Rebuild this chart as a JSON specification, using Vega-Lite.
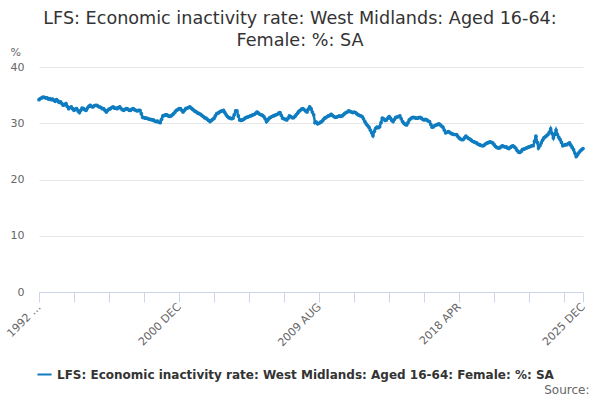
{
  "$schema": "https://vega.github.io/schema/vega-lite/v6.json",
  "autosize": {"type": "none"},
  "width": 544,
  "height": 225,
  "padding": {"left": 39, "top": 67, "right": 17, "bottom": 108},
  "config": {"font": "DejaVu Sans", "view": {"stroke": null}},
  "title": {
    "text": ["LFS: Economic inactivity rate: West Midlands: Aged 16-64:", "Female: %: SA"],
    "fontSize": 17.6,
    "fontWeight": "normal",
    "color": "#333333",
    "anchor": "middle",
    "dx": -11,
    "offset": -4,
    "lineHeight": 22
  },
  "data": {
    "values": [
      {"d": "1992-04-01", "v": 34.2}, {"d": "1992-05-01", "v": 34.4}, {"d": "1992-06-01", "v": 34.5},
      {"d": "1992-07-01", "v": 34.65}, {"d": "1992-08-01", "v": 34.6}, {"d": "1992-09-01", "v": 34.5},
      {"d": "1992-10-01", "v": 34.5}, {"d": "1992-11-01", "v": 34.3}, {"d": "1992-12-01", "v": 34.4},
      {"d": "1993-01-01", "v": 34.2}, {"d": "1993-02-01", "v": 34.3}, {"d": "1993-03-01", "v": 34.1},
      {"d": "1993-04-01", "v": 33.9}, {"d": "1993-05-01", "v": 34.2}, {"d": "1993-06-01", "v": 34.0},
      {"d": "1993-07-01", "v": 33.7}, {"d": "1993-08-01", "v": 33.8}, {"d": "1993-09-01", "v": 33.5},
      {"d": "1993-10-01", "v": 33.2}, {"d": "1993-11-01", "v": 33.3}, {"d": "1993-12-01", "v": 33.5},
      {"d": "1994-01-01", "v": 33.0}, {"d": "1994-02-01", "v": 32.6}, {"d": "1994-03-01", "v": 32.8},
      {"d": "1994-04-01", "v": 32.9}, {"d": "1994-05-01", "v": 32.6}, {"d": "1994-06-01", "v": 32.3},
      {"d": "1994-07-01", "v": 32.5}, {"d": "1994-08-01", "v": 32.6}, {"d": "1994-09-01", "v": 32.2},
      {"d": "1994-10-01", "v": 31.9}, {"d": "1994-11-01", "v": 32.3}, {"d": "1994-12-01", "v": 32.7},
      {"d": "1995-01-01", "v": 32.6}, {"d": "1995-02-01", "v": 32.4}, {"d": "1995-03-01", "v": 32.3},
      {"d": "1995-04-01", "v": 32.7}, {"d": "1995-05-01", "v": 33.0}, {"d": "1995-06-01", "v": 33.2},
      {"d": "1995-07-01", "v": 33.0}, {"d": "1995-08-01", "v": 32.9}, {"d": "1995-09-01", "v": 33.1},
      {"d": "1995-10-01", "v": 33.2}, {"d": "1995-11-01", "v": 33.2}, {"d": "1995-12-01", "v": 33.0},
      {"d": "1996-01-01", "v": 32.9}, {"d": "1996-02-01", "v": 32.8}, {"d": "1996-03-01", "v": 32.6},
      {"d": "1996-04-01", "v": 32.6}, {"d": "1996-05-01", "v": 32.3}, {"d": "1996-06-01", "v": 32.0},
      {"d": "1996-07-01", "v": 32.3}, {"d": "1996-08-01", "v": 32.5}, {"d": "1996-09-01", "v": 32.6},
      {"d": "1996-10-01", "v": 32.8}, {"d": "1996-11-01", "v": 32.9}, {"d": "1996-12-01", "v": 32.7},
      {"d": "1997-01-01", "v": 32.7}, {"d": "1997-02-01", "v": 32.6}, {"d": "1997-03-01", "v": 32.8},
      {"d": "1997-04-01", "v": 32.9}, {"d": "1997-05-01", "v": 32.6}, {"d": "1997-06-01", "v": 32.4},
      {"d": "1997-07-01", "v": 32.3}, {"d": "1997-08-01", "v": 32.5}, {"d": "1997-09-01", "v": 32.6},
      {"d": "1997-10-01", "v": 32.5}, {"d": "1997-11-01", "v": 32.3}, {"d": "1997-12-01", "v": 32.3},
      {"d": "1998-01-01", "v": 32.5}, {"d": "1998-02-01", "v": 32.6}, {"d": "1998-03-01", "v": 32.4},
      {"d": "1998-04-01", "v": 32.3}, {"d": "1998-05-01", "v": 32.2}, {"d": "1998-06-01", "v": 32.3},
      {"d": "1998-07-01", "v": 32.3}, {"d": "1998-08-01", "v": 31.7}, {"d": "1998-09-01", "v": 31.05},
      {"d": "1998-10-01", "v": 31.0}, {"d": "1998-11-01", "v": 30.9}, {"d": "1998-12-01", "v": 30.9},
      {"d": "1999-01-01", "v": 30.8}, {"d": "1999-02-01", "v": 30.7}, {"d": "1999-03-01", "v": 30.7},
      {"d": "1999-04-01", "v": 30.6}, {"d": "1999-05-01", "v": 30.6}, {"d": "1999-06-01", "v": 30.4},
      {"d": "1999-07-01", "v": 30.3}, {"d": "1999-08-01", "v": 30.4}, {"d": "1999-09-01", "v": 30.2},
      {"d": "1999-10-01", "v": 30.1}, {"d": "1999-11-01", "v": 30.7}, {"d": "1999-12-01", "v": 31.3},
      {"d": "2000-01-01", "v": 31.4}, {"d": "2000-02-01", "v": 31.5}, {"d": "2000-03-01", "v": 31.5},
      {"d": "2000-04-01", "v": 31.3}, {"d": "2000-05-01", "v": 31.2}, {"d": "2000-06-01", "v": 31.3},
      {"d": "2000-07-01", "v": 31.5}, {"d": "2000-08-01", "v": 31.7}, {"d": "2000-09-01", "v": 32.0},
      {"d": "2000-10-01", "v": 32.3}, {"d": "2000-11-01", "v": 32.4}, {"d": "2000-12-01", "v": 32.6},
      {"d": "2001-01-01", "v": 32.6}, {"d": "2001-02-01", "v": 32.3}, {"d": "2001-03-01", "v": 32.0},
      {"d": "2001-04-01", "v": 32.3}, {"d": "2001-05-01", "v": 32.6}, {"d": "2001-06-01", "v": 32.7},
      {"d": "2001-07-01", "v": 32.8}, {"d": "2001-08-01", "v": 32.9}, {"d": "2001-09-01", "v": 32.7},
      {"d": "2001-10-01", "v": 32.5}, {"d": "2001-11-01", "v": 32.3}, {"d": "2001-12-01", "v": 32.1},
      {"d": "2002-01-01", "v": 32.0}, {"d": "2002-02-01", "v": 31.8}, {"d": "2002-03-01", "v": 31.7},
      {"d": "2002-04-01", "v": 31.6}, {"d": "2002-05-01", "v": 31.4}, {"d": "2002-06-01", "v": 31.2},
      {"d": "2002-07-01", "v": 31.0}, {"d": "2002-08-01", "v": 30.9}, {"d": "2002-09-01", "v": 30.7},
      {"d": "2002-10-01", "v": 30.5}, {"d": "2002-11-01", "v": 30.3}, {"d": "2002-12-01", "v": 30.5},
      {"d": "2003-01-01", "v": 30.7}, {"d": "2003-02-01", "v": 30.9}, {"d": "2003-03-01", "v": 31.3},
      {"d": "2003-04-01", "v": 31.7}, {"d": "2003-05-01", "v": 31.8}, {"d": "2003-06-01", "v": 32.0},
      {"d": "2003-07-01", "v": 32.1}, {"d": "2003-08-01", "v": 32.2}, {"d": "2003-09-01", "v": 32.3},
      {"d": "2003-10-01", "v": 31.9}, {"d": "2003-11-01", "v": 31.5}, {"d": "2003-12-01", "v": 31.2},
      {"d": "2004-01-01", "v": 31.0}, {"d": "2004-02-01", "v": 30.9}, {"d": "2004-03-01", "v": 30.8},
      {"d": "2004-04-01", "v": 30.9}, {"d": "2004-05-01", "v": 31.5}, {"d": "2004-06-01", "v": 32.2},
      {"d": "2004-07-01", "v": 32.2}, {"d": "2004-08-01", "v": 31.3}, {"d": "2004-09-01", "v": 30.6},
      {"d": "2004-10-01", "v": 30.5}, {"d": "2004-11-01", "v": 30.6}, {"d": "2004-12-01", "v": 30.7},
      {"d": "2005-01-01", "v": 30.9}, {"d": "2005-02-01", "v": 31.05}, {"d": "2005-03-01", "v": 31.1},
      {"d": "2005-04-01", "v": 31.2}, {"d": "2005-05-01", "v": 31.3}, {"d": "2005-06-01", "v": 31.4},
      {"d": "2005-07-01", "v": 31.5}, {"d": "2005-08-01", "v": 31.6}, {"d": "2005-09-01", "v": 31.8},
      {"d": "2005-10-01", "v": 32.0}, {"d": "2005-11-01", "v": 31.8}, {"d": "2005-12-01", "v": 31.6},
      {"d": "2006-01-01", "v": 31.5}, {"d": "2006-02-01", "v": 31.4}, {"d": "2006-03-01", "v": 31.2},
      {"d": "2006-04-01", "v": 30.8}, {"d": "2006-05-01", "v": 30.3}, {"d": "2006-06-01", "v": 30.6},
      {"d": "2006-07-01", "v": 30.9}, {"d": "2006-08-01", "v": 31.05}, {"d": "2006-09-01", "v": 31.2},
      {"d": "2006-10-01", "v": 31.3}, {"d": "2006-11-01", "v": 31.4}, {"d": "2006-12-01", "v": 31.5},
      {"d": "2007-01-01", "v": 31.6}, {"d": "2007-02-01", "v": 31.8}, {"d": "2007-03-01", "v": 31.9},
      {"d": "2007-04-01", "v": 31.4}, {"d": "2007-05-01", "v": 30.9}, {"d": "2007-06-01", "v": 30.8},
      {"d": "2007-07-01", "v": 30.7}, {"d": "2007-08-01", "v": 30.6}, {"d": "2007-09-01", "v": 30.9},
      {"d": "2007-10-01", "v": 31.3}, {"d": "2007-11-01", "v": 31.2}, {"d": "2007-12-01", "v": 31.0},
      {"d": "2008-01-01", "v": 31.0}, {"d": "2008-02-01", "v": 31.2}, {"d": "2008-03-01", "v": 31.5},
      {"d": "2008-04-01", "v": 31.8}, {"d": "2008-05-01", "v": 32.1}, {"d": "2008-06-01", "v": 32.3},
      {"d": "2008-07-01", "v": 32.5}, {"d": "2008-08-01", "v": 32.6}, {"d": "2008-09-01", "v": 32.4},
      {"d": "2008-10-01", "v": 32.2}, {"d": "2008-11-01", "v": 32.0}, {"d": "2008-12-01", "v": 32.5},
      {"d": "2009-01-01", "v": 32.9}, {"d": "2009-02-01", "v": 32.6}, {"d": "2009-03-01", "v": 32.0},
      {"d": "2009-04-01", "v": 31.5}, {"d": "2009-05-01", "v": 30.1}, {"d": "2009-06-01", "v": 30.2},
      {"d": "2009-07-01", "v": 29.9}, {"d": "2009-08-01", "v": 30.0}, {"d": "2009-09-01", "v": 30.2},
      {"d": "2009-10-01", "v": 30.3}, {"d": "2009-11-01", "v": 30.6}, {"d": "2009-12-01", "v": 30.9},
      {"d": "2010-01-01", "v": 31.0}, {"d": "2010-02-01", "v": 31.2}, {"d": "2010-03-01", "v": 31.3},
      {"d": "2010-04-01", "v": 31.4}, {"d": "2010-05-01", "v": 31.6}, {"d": "2010-06-01", "v": 31.4},
      {"d": "2010-07-01", "v": 31.2}, {"d": "2010-08-01", "v": 31.05}, {"d": "2010-09-01", "v": 31.1},
      {"d": "2010-10-01", "v": 31.2}, {"d": "2010-11-01", "v": 31.3}, {"d": "2010-12-01", "v": 31.2},
      {"d": "2011-01-01", "v": 31.3}, {"d": "2011-02-01", "v": 31.5}, {"d": "2011-03-01", "v": 31.7},
      {"d": "2011-04-01", "v": 31.9}, {"d": "2011-05-01", "v": 32.0}, {"d": "2011-06-01", "v": 32.2},
      {"d": "2011-07-01", "v": 32.1}, {"d": "2011-08-01", "v": 32.0}, {"d": "2011-09-01", "v": 31.9},
      {"d": "2011-10-01", "v": 32.0}, {"d": "2011-11-01", "v": 31.9}, {"d": "2011-12-01", "v": 31.7},
      {"d": "2012-01-01", "v": 31.5}, {"d": "2012-02-01", "v": 31.4}, {"d": "2012-03-01", "v": 31.3},
      {"d": "2012-04-01", "v": 31.2}, {"d": "2012-05-01", "v": 30.8}, {"d": "2012-06-01", "v": 30.3},
      {"d": "2012-07-01", "v": 29.9}, {"d": "2012-08-01", "v": 29.6}, {"d": "2012-09-01", "v": 29.3},
      {"d": "2012-10-01", "v": 28.8}, {"d": "2012-11-01", "v": 28.3}, {"d": "2012-12-01", "v": 27.8},
      {"d": "2013-01-01", "v": 28.6}, {"d": "2013-02-01", "v": 29.1}, {"d": "2013-03-01", "v": 29.3},
      {"d": "2013-04-01", "v": 29.2}, {"d": "2013-05-01", "v": 29.4}, {"d": "2013-06-01", "v": 30.1},
      {"d": "2013-07-01", "v": 30.9}, {"d": "2013-08-01", "v": 30.8}, {"d": "2013-09-01", "v": 30.5},
      {"d": "2013-10-01", "v": 30.6}, {"d": "2013-11-01", "v": 30.9}, {"d": "2013-12-01", "v": 31.2},
      {"d": "2014-01-01", "v": 30.9}, {"d": "2014-02-01", "v": 30.5}, {"d": "2014-03-01", "v": 30.3},
      {"d": "2014-04-01", "v": 30.7}, {"d": "2014-05-01", "v": 31.05}, {"d": "2014-06-01", "v": 31.1},
      {"d": "2014-07-01", "v": 31.2}, {"d": "2014-08-01", "v": 31.3}, {"d": "2014-09-01", "v": 30.8},
      {"d": "2014-10-01", "v": 30.3}, {"d": "2014-11-01", "v": 30.0}, {"d": "2014-12-01", "v": 29.8},
      {"d": "2015-01-01", "v": 29.7}, {"d": "2015-02-01", "v": 30.1}, {"d": "2015-03-01", "v": 30.6},
      {"d": "2015-04-01", "v": 30.8}, {"d": "2015-05-01", "v": 31.0}, {"d": "2015-06-01", "v": 31.05},
      {"d": "2015-07-01", "v": 31.0}, {"d": "2015-08-01", "v": 30.9}, {"d": "2015-09-01", "v": 30.9},
      {"d": "2015-10-01", "v": 31.0}, {"d": "2015-11-01", "v": 31.05}, {"d": "2015-12-01", "v": 30.9},
      {"d": "2016-01-01", "v": 30.7}, {"d": "2016-02-01", "v": 30.6}, {"d": "2016-03-01", "v": 30.7},
      {"d": "2016-04-01", "v": 30.6}, {"d": "2016-05-01", "v": 30.4}, {"d": "2016-06-01", "v": 30.3},
      {"d": "2016-07-01", "v": 29.8}, {"d": "2016-08-01", "v": 29.3}, {"d": "2016-09-01", "v": 29.4},
      {"d": "2016-10-01", "v": 29.6}, {"d": "2016-11-01", "v": 29.7}, {"d": "2016-12-01", "v": 29.8},
      {"d": "2017-01-01", "v": 29.9}, {"d": "2017-02-01", "v": 29.7}, {"d": "2017-03-01", "v": 29.5},
      {"d": "2017-04-01", "v": 29.3}, {"d": "2017-05-01", "v": 28.8}, {"d": "2017-06-01", "v": 28.3},
      {"d": "2017-07-01", "v": 28.4}, {"d": "2017-08-01", "v": 28.5}, {"d": "2017-09-01", "v": 28.4},
      {"d": "2017-10-01", "v": 28.2}, {"d": "2017-11-01", "v": 28.1}, {"d": "2017-12-01", "v": 28.0},
      {"d": "2018-01-01", "v": 28.0}, {"d": "2018-02-01", "v": 28.0}, {"d": "2018-03-01", "v": 27.7},
      {"d": "2018-04-01", "v": 27.4}, {"d": "2018-05-01", "v": 27.2}, {"d": "2018-06-01", "v": 27.1},
      {"d": "2018-07-01", "v": 27.1}, {"d": "2018-08-01", "v": 27.4}, {"d": "2018-09-01", "v": 27.7},
      {"d": "2018-10-01", "v": 27.5}, {"d": "2018-11-01", "v": 27.3}, {"d": "2018-12-01", "v": 27.2},
      {"d": "2019-01-01", "v": 27.0}, {"d": "2019-02-01", "v": 26.8}, {"d": "2019-03-01", "v": 26.7},
      {"d": "2019-04-01", "v": 26.6}, {"d": "2019-05-01", "v": 26.5}, {"d": "2019-06-01", "v": 26.3},
      {"d": "2019-07-01", "v": 26.2}, {"d": "2019-08-01", "v": 26.1}, {"d": "2019-09-01", "v": 26.0},
      {"d": "2019-10-01", "v": 26.0}, {"d": "2019-11-01", "v": 26.2}, {"d": "2019-12-01", "v": 26.4},
      {"d": "2020-01-01", "v": 26.5}, {"d": "2020-02-01", "v": 26.6}, {"d": "2020-03-01", "v": 26.7},
      {"d": "2020-04-01", "v": 26.6}, {"d": "2020-05-01", "v": 26.5}, {"d": "2020-06-01", "v": 26.2},
      {"d": "2020-07-01", "v": 25.9}, {"d": "2020-08-01", "v": 25.7}, {"d": "2020-09-01", "v": 25.6},
      {"d": "2020-10-01", "v": 25.6}, {"d": "2020-11-01", "v": 25.8}, {"d": "2020-12-01", "v": 26.0},
      {"d": "2021-01-01", "v": 25.9}, {"d": "2021-02-01", "v": 25.8}, {"d": "2021-03-01", "v": 25.8},
      {"d": "2021-04-01", "v": 25.6}, {"d": "2021-05-01", "v": 25.5}, {"d": "2021-06-01", "v": 25.7},
      {"d": "2021-07-01", "v": 25.9}, {"d": "2021-08-01", "v": 26.0}, {"d": "2021-09-01", "v": 25.8},
      {"d": "2021-10-01", "v": 25.6}, {"d": "2021-11-01", "v": 25.2}, {"d": "2021-12-01", "v": 24.9},
      {"d": "2022-01-01", "v": 24.8}, {"d": "2022-02-01", "v": 25.0}, {"d": "2022-03-01", "v": 25.3},
      {"d": "2022-04-01", "v": 25.4}, {"d": "2022-05-01", "v": 25.5}, {"d": "2022-06-01", "v": 25.6},
      {"d": "2022-07-01", "v": 25.7}, {"d": "2022-08-01", "v": 25.8}, {"d": "2022-09-01", "v": 25.9},
      {"d": "2022-10-01", "v": 26.0}, {"d": "2022-11-01", "v": 26.0}, {"d": "2022-12-01", "v": 26.8},
      {"d": "2023-01-01", "v": 27.7}, {"d": "2023-02-01", "v": 26.6}, {"d": "2023-03-01", "v": 25.6},
      {"d": "2023-04-01", "v": 26.0}, {"d": "2023-05-01", "v": 26.5}, {"d": "2023-06-01", "v": 27.0},
      {"d": "2023-07-01", "v": 27.4}, {"d": "2023-08-01", "v": 27.6}, {"d": "2023-09-01", "v": 27.8},
      {"d": "2023-10-01", "v": 28.0}, {"d": "2023-11-01", "v": 28.4}, {"d": "2023-12-01", "v": 29.0},
      {"d": "2024-01-01", "v": 28.2}, {"d": "2024-02-01", "v": 27.4}, {"d": "2024-03-01", "v": 28.0},
      {"d": "2024-04-01", "v": 28.8}, {"d": "2024-05-01", "v": 28.0}, {"d": "2024-06-01", "v": 27.5},
      {"d": "2024-07-01", "v": 27.1}, {"d": "2024-08-01", "v": 26.6}, {"d": "2024-09-01", "v": 26.0},
      {"d": "2024-10-01", "v": 26.1}, {"d": "2024-11-01", "v": 26.2}, {"d": "2024-12-01", "v": 26.2},
      {"d": "2025-01-01", "v": 26.4}, {"d": "2025-02-01", "v": 26.5}, {"d": "2025-03-01", "v": 26.1},
      {"d": "2025-04-01", "v": 25.7}, {"d": "2025-05-01", "v": 25.3}, {"d": "2025-06-01", "v": 24.7},
      {"d": "2025-07-01", "v": 24.1}, {"d": "2025-08-01", "v": 24.4}, {"d": "2025-09-01", "v": 24.8},
      {"d": "2025-10-01", "v": 25.1}, {"d": "2025-11-01", "v": 25.3}, {"d": "2025-12-01", "v": 25.5}
    ]
  },
  "mark": {
    "type": "line",
    "strokeWidth": 2.5,
    "point": {"filled": true, "size": 14}
  },
  "encoding": {
    "x": {
      "field": "d",
      "type": "temporal",
      "scale": {
        "type": "utc",
        "nice": false,
        "domain": [
          {"year": 1992, "month": 4, "date": 1, "utc": true},
          {"year": 2025, "month": 12, "date": 1, "utc": true}
        ]
      },
      "axis": {
        "values": [
          {"year": 1992, "month": 4, "date": 1, "utc": true},
          {"year": 1994, "month": 6, "date": 1, "utc": true},
          {"year": 1996, "month": 8, "date": 1, "utc": true},
          {"year": 1998, "month": 10, "date": 1, "utc": true},
          {"year": 2000, "month": 12, "date": 1, "utc": true},
          {"year": 2003, "month": 2, "date": 1, "utc": true},
          {"year": 2005, "month": 4, "date": 1, "utc": true},
          {"year": 2007, "month": 6, "date": 1, "utc": true},
          {"year": 2009, "month": 8, "date": 1, "utc": true},
          {"year": 2011, "month": 10, "date": 1, "utc": true},
          {"year": 2013, "month": 12, "date": 1, "utc": true},
          {"year": 2016, "month": 2, "date": 1, "utc": true},
          {"year": 2018, "month": 4, "date": 1, "utc": true},
          {"year": 2020, "month": 6, "date": 1, "utc": true},
          {"year": 2022, "month": 8, "date": 1, "utc": true},
          {"year": 2024, "month": 10, "date": 1, "utc": true},
          {"year": 2025, "month": 12, "date": 1, "utc": true}
        ],
        "labelExpr": "((utcyear(datum.value)-1992)*12+utcmonth(datum.value)-3) == 0 ? '1992 …' : ((((utcyear(datum.value)-1992)*12+utcmonth(datum.value)-3) % 104 == 0 || utcyear(datum.value) == 2025) ? upper(utcFormat(datum.value, '%Y %b')) : '')",
        "labelAngle": -45,
        "labelAlign": "right",
        "labelBaseline": "middle",
        "labelFontSize": 11,
        "labelColor": "#666666",
        "labelPadding": 3,
        "labelOverlap": false,
        "labelFlush": false,
        "labelBound": false,
        "grid": false,
        "domainColor": "#ccd6eb",
        "tickColor": "#ccd6eb",
        "tickSize": 10,
        "title": "Source:",
        "titleX": 550,
        "titleY": 97,
        "titleAlign": "right",
        "titleBaseline": "middle",
        "titleFontSize": 12,
        "titleFontWeight": "normal",
        "titleColor": "#666666"
      }
    },
    "y": {
      "field": "v",
      "type": "quantitative",
      "scale": {"domain": [0, 40], "nice": false},
      "axis": {
        "values": [0, 10, 20, 30, 40],
        "domain": false,
        "ticks": false,
        "gridColor": "#e6e6e6",
        "labelColor": "#666666",
        "labelFontSize": 11,
        "labelPadding": 15,
        "title": "%",
        "titleAngle": 0,
        "titleAlign": "left",
        "titleBaseline": "middle",
        "titleX": -29,
        "titleY": -15,
        "titleFontSize": 11,
        "titleFontWeight": "normal",
        "titleColor": "#666666"
      }
    },
    "color": {
      "datum": "LFS: Economic inactivity rate: West Midlands: Aged 16-64: Female: %: SA",
      "type": "nominal",
      "scale": {"range": ["#0f7cc0"]},
      "legend": {
        "title": null,
        "orient": "none",
        "legendX": -3,
        "legendY": 299,
        "direction": "horizontal",
        "symbolType": "stroke",
        "symbolStrokeWidth": 2,
        "symbolSize": 200,
        "labelFontSize": 12,
        "labelFontWeight": "bold",
        "labelColor": "#333333",
        "labelLimit": 600
      }
    }
  }
}
